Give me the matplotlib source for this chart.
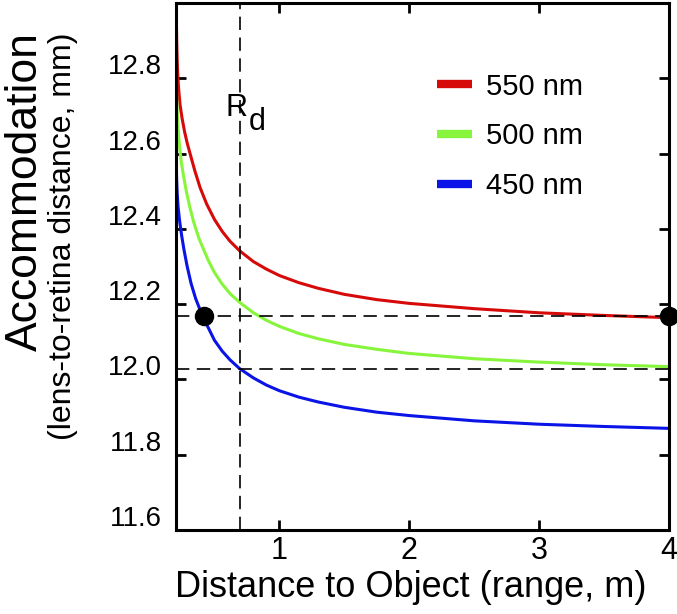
import numpy as np
import matplotlib
matplotlib.use('Agg')
import matplotlib.pyplot as plt
import matplotlib.transforms as mtransforms

plt.rcParams['font.family'] = ['Liberation Sans', 'DejaVu Sans']

# distancia al objeto (m) y distancia lente-retina (mm)
x_550 = [0.207, 0.209, 0.212, 0.216, 0.221, 0.227, 0.235, 0.250, 0.270, 0.290,
         0.320, 0.350, 0.390, 0.440, 0.500, 0.560, 0.620, 0.693, 0.800, 0.900,
         1.000, 1.150, 1.300, 1.500, 1.750, 2.000, 2.500, 3.000, 3.500, 4.000]
y_550 = [12.951, 12.905, 12.860, 12.820, 12.787, 12.760, 12.730, 12.695, 12.658,
         12.628, 12.590, 12.553, 12.509, 12.466, 12.425, 12.393, 12.367, 12.342,
         12.313, 12.293, 12.276, 12.257, 12.242, 12.226, 12.212, 12.202, 12.188,
         12.177, 12.170, 12.164]

x_500 = [0.205, 0.208, 0.212, 0.217, 0.224, 0.233, 0.245, 0.262, 0.285, 0.310,
         0.340, 0.380, 0.450, 0.500, 0.560, 0.620, 0.693, 0.800, 0.900, 1.000,
         1.150, 1.300, 1.500, 1.750, 2.000, 2.500, 3.000, 3.500, 4.000]
y_500 = [12.800, 12.760, 12.720, 12.684, 12.648, 12.612, 12.577, 12.540, 12.497,
         12.458, 12.418, 12.375, 12.318, 12.284, 12.253, 12.228, 12.205, 12.177,
         12.157, 12.141, 12.122, 12.108, 12.093, 12.080, 12.069, 12.055, 12.046,
         12.039, 12.034]

x_450 = [0.204, 0.206, 0.209, 0.213, 0.220, 0.232, 0.247, 0.265, 0.290, 0.320,
         0.355, 0.390, 0.420, 0.500, 0.560, 0.620, 0.693, 0.800, 0.900, 1.000,
         1.150, 1.300, 1.500, 1.750, 2.000, 2.500, 3.000, 3.500, 4.000]
y_450 = [12.615, 12.570, 12.530, 12.495, 12.458, 12.420, 12.383, 12.345, 12.300,
         12.255, 12.215, 12.184, 12.160, 12.104, 12.075, 12.052, 12.029, 12.004,
         11.985, 11.970, 11.953, 11.940, 11.926, 11.913, 11.904, 11.890, 11.881,
         11.875, 11.870]

etiquetas = ['550 nm', '500 nm', '450 nm']
colores = ['#d70a0a', '#86f53c', '#0a14e6']

rd = 0.693
y_ref = [12.168, 12.028]
puntos_x = [0.416, 4.0]
puntos_y = [12.168, 12.168]

fig = plt.figure(figsize=(6.77, 6.14), dpi=100)
ax = fig.add_axes([175.5 / 677, 1 - 530 / 614, (669 - 175.5) / 677, (530 - 3) / 614])

for xs, ys, lab, c in zip([x_550, x_500, x_450], [y_550, y_500, y_450], etiquetas, colores):
    ax.plot(xs, ys, color=c, lw=2.2, label=lab)

ax.axvline(rd, color='k', lw=1.2, ls=(0, (8, 4.5)))
for yr in y_ref:
    ax.axhline(yr, color='k', lw=1.2, ls=(0, (8, 4.5)))
ax.plot(puntos_x, puntos_y, 'o', color='k', ms=13, clip_on=False, zorder=5)

# R con subíndice d casi del mismo tamaño
ax.text(0.588, 12.70, 'R', fontsize=22, va='baseline')
ax.text(0.762, 12.663, 'd', fontsize=22, va='baseline')

ax.set_xlim(0.2, 4)
ax.set_ylim(11.6, 13.0)
ax.set_xticks([1, 2, 3, 4])
ax.set_yticks(np.arange(11.6, 12.81, 0.2))
ax.set_yticklabels(['%.1f' % v for v in np.arange(11.6, 12.81, 0.2)])
ax.tick_params(direction='in', length=7, width=2, top=True, right=True)
ax.tick_params(axis='x', labelsize=22, pad=4)
ax.tick_params(axis='y', labelsize=20, pad=10)
for s in ax.spines.values():
    s.set_linewidth(2.2)

offset = mtransforms.ScaledTranslation(0, 14 / 100, fig.dpi_scale_trans)
for lab in ax.get_yticklabels():
    lab.set_transform(lab.get_transform() + offset)

fig.text(411 / 677, 1 - 597 / 614, 'Distance to Object (range, m)', fontsize=26,
         ha='center', va='baseline')
fig.text(25 / 677, 1 - 32 / 614, 'Accommodation', rotation=90, fontsize=32,
         ha='center', va='top')
fig.text(63 / 677, 1 - 32 / 614, '(lens-to-retina distance, mm)', rotation=90,
         fontsize=23, ha='center', va='top')

leg = ax.legend(loc='upper left', bbox_to_anchor=(0.530, 0.868), frameon=False,
                fontsize=21, borderpad=0, borderaxespad=0, handlelength=1.2,
                handletextpad=0.48, labelspacing=0.75)
for h in leg.get_lines():
    h.set_linewidth(6)
    h.set_solid_capstyle('butt')

fig.savefig('out.png', dpi=100)
